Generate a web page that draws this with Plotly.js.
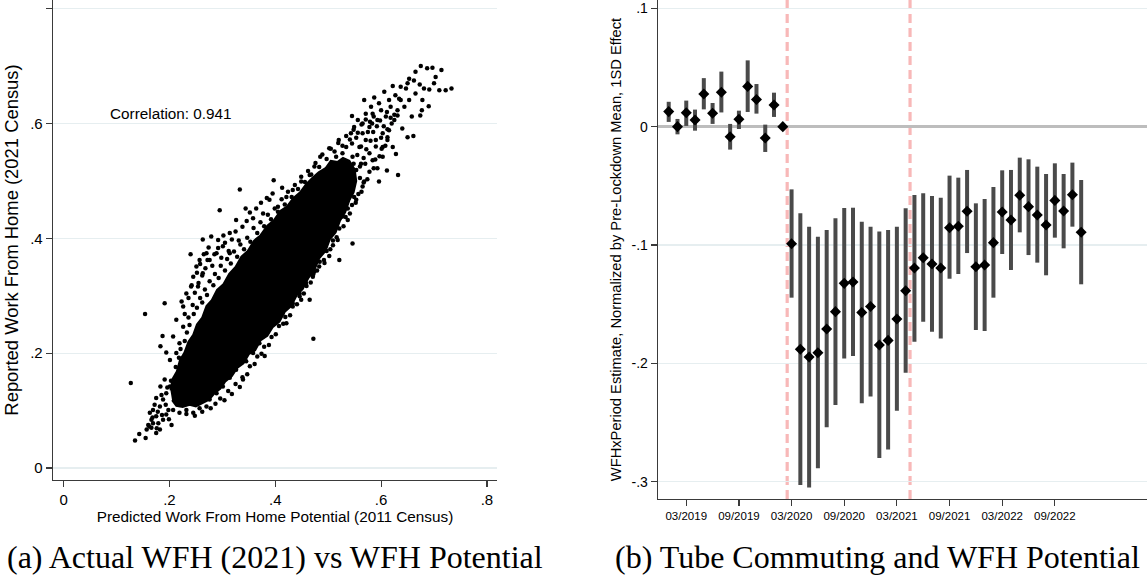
<!DOCTYPE html>
<html>
<head>
<meta charset="utf-8">
<script src="https://cdn.plot.ly/plotly-3.0.1.min.js"></script>
<style>html,body{margin:0;padding:0;background:#fff;}#chart{width:1147px;height:587px;}</style>
</head>
<body>
<div id="chart"></div>
<script>
// ---------- Panel (a): scatter data ----------
// dense core of the cloud (outline of the solid black region)
const coreX = [0.205,0.213,0.225,0.238,0.25,0.262,0.275,0.285,0.296,0.305,0.318,0.328,0.34,0.35,0.362,0.372,0.385,0.395,0.408,0.418,0.43,0.44,0.452,0.462,0.474,0.483,0.495,0.503,0.514,0.522,0.532,0.54,0.548,0.553,0.55,
0.54,0.528,0.518,0.505,0.495,0.482,0.47,0.458,0.447,0.434,0.422,0.41,0.398,0.385,0.372,0.36,0.348,0.336,0.325,0.313,0.302,0.29,0.28,0.27,0.262,0.252,0.245,0.236,0.228,0.22,0.214,0.206,0.202];
const coreY = [0.118,0.108,0.106,0.110,0.107,0.113,0.119,0.13,0.138,0.15,0.16,0.174,0.182,0.198,0.205,0.222,0.23,0.245,0.255,0.272,0.282,0.3,0.312,0.33,0.345,0.365,0.378,0.398,0.41,0.43,0.445,0.466,0.48,0.5,0.52,
0.535,0.54,0.533,0.535,0.522,0.515,0.505,0.494,0.48,0.47,0.455,0.448,0.432,0.422,0.405,0.396,0.378,0.368,0.35,0.338,0.32,0.31,0.292,0.282,0.262,0.25,0.232,0.22,0.2,0.188,0.168,0.155,0.135];
// individual points: outliers and the sparser outer cloud
const wfhPotential = [0.127,0.135,0.143,0.155,0.154,0.191,0.187,0.194,0.183,0.263,0.295,0.333,0.397,0.413,0.472,0.546,0.380,0.465,0.240,0.223,
0.520,0.545,0.568,0.587,0.606,0.622,0.634,0.653,0.665,0.675,0.687,0.697,0.703,0.714,0.722,0.733,0.710,0.691,0.673,0.662,
0.647,0.658,0.661,0.650,0.674,0.690,0.677,0.640,0.632,0.611,0.596,0.622,0.628,0.603,0.593,0.568,0.553,0.537,0.518,0.502,
0.483,0.493,0.474,0.521,0.509,0.565,0.578,0.584,0.600,0.609,0.618,0.631,0.637,0.644,0.571,0.590,0.603,0.615,0.559,0.546,
0.578,0.562,0.540,0.527,0.553,0.584,0.534,0.543,0.556,0.571,0.593,0.603,0.612,0.625,0.631,0.637,0.653,0.665,0.678,0.681,
0.700,0.650,0.627,0.615,0.596,0.581,0.565,0.549,0.527,0.515,0.502,0.485,0.474,0.465,0.449,0.433,0.421,0.405,0.389,0.377,
0.358,0.344,0.326,0.314,0.292,0.279,0.270,0.257,0.251,0.245,0.241,0.232,0.254,0.263,0.276,0.289,0.301,0.314,0.226,0.213,
0.226,0.207,0.219,0.201,0.213,0.191,0.183,0.175,0.169,0.163,0.160,0.166,0.175,0.182,0.188,0.194,0.204,0.198,0.182,0.175,
0.169,0.157,0.166,0.188,0.194,0.201,0.207,0.219,0.232,0.245,0.257,0.270,0.276,0.289,0.301,0.314,0.326,0.345,0.358,0.339,
0.370,0.383,0.402,0.414,0.421,0.433,0.446,0.458,0.449,0.471,0.483,0.499,0.515,0.527,0.537,0.549,0.565,0.509,0.521,0.496,0.483];
const wfhReported = [0.148,0.048,0.059,0.052,0.268,0.287,0.230,0.201,0.212,0.398,0.449,0.485,0.501,0.488,0.225,0.391,0.195,0.293,0.372,0.290,
0.571,0.613,0.641,0.645,0.655,0.665,0.643,0.678,0.690,0.700,0.696,0.697,0.681,0.693,0.658,0.661,0.658,0.659,0.668,0.675,
0.661,0.612,0.578,0.576,0.614,0.630,0.623,0.591,0.510,0.518,0.499,0.559,0.547,0.542,0.522,0.499,0.467,0.432,0.397,0.369,
0.351,0.357,0.342,0.362,0.388,0.583,0.594,0.617,0.623,0.612,0.629,0.623,0.641,0.629,0.571,0.571,0.583,0.588,0.559,0.542,
0.548,0.530,0.525,0.513,0.519,0.536,0.559,0.583,0.606,0.617,0.606,0.559,0.571,0.606,0.614,0.664,0.641,0.652,0.641,0.661,
0.670,0.670,0.649,0.641,0.635,0.629,0.600,0.594,0.548,0.542,0.557,0.542,0.525,0.510,0.499,0.484,0.472,0.455,0.467,0.443,
0.435,0.452,0.432,0.409,0.397,0.403,0.374,0.362,0.351,0.333,0.316,0.304,0.316,0.339,0.362,0.374,0.386,0.374,0.281,0.258,
0.246,0.229,0.217,0.188,0.200,0.154,0.142,0.122,0.101,0.096,0.075,0.070,0.061,0.067,0.084,0.093,0.075,0.101,0.107,0.090,
0.078,0.067,0.084,0.119,0.130,0.142,0.101,0.096,0.101,0.096,0.104,0.107,0.119,0.130,0.142,0.157,0.171,0.186,0.200,0.154,
0.217,0.235,0.258,0.270,0.252,0.287,0.304,0.322,0.293,0.333,0.374,0.397,0.420,0.438,0.452,0.472,0.490,0.467,0.484,0.438,0.414];
// points along the fuzzy edges of the cloud
const edgePotential = [0.212,0.218,0.221,0.229,0.233,0.238,0.236,0.246,0.244,0.252,0.258,0.262,0.267,0.271,0.276,0.283,0.286,0.293,0.297,0.305,
0.309,0.316,0.322,0.328,0.334,0.341,0.347,0.353,0.359,0.366,0.372,0.379,0.386,0.392,0.399,0.405,0.412,0.418,0.424,0.431,
0.437,0.443,0.449,0.456,0.462,0.468,0.476,0.483,0.489,0.497,0.505,0.512,0.519,0.527,0.534,0.541,0.548,0.556,0.563,0.571,0.579,0.586,
0.232,0.248,0.262,0.278,0.287,0.296,0.304,0.311,0.318,0.325,0.333,0.338,0.347,0.352,0.361,0.366,0.374,0.379,0.388,0.393,
0.401,0.407,0.415,0.419,0.428,0.433,0.441,0.446,0.454,0.459,0.467,0.472,0.479,0.484,0.492,0.497,0.504,0.509,0.516,0.521,
0.529,0.533,0.541,0.545,0.552,0.557,0.563,0.567,0.574,0.578,0.586,0.589,0.597,0.601,0.608,0.612,
0.525,0.532,0.540,0.548,0.555,0.562,0.545,0.553,0.560,0.567,0.572,0.580,0.585,0.592,0.575,0.583,0.598,0.605,0.611,0.618,0.560,0.570,0.590,0.600,0.612,0.620,0.625,
0.248,0.255,0.262,0.268,0.258,0.272,0.281,0.285,0.292,0.298,0.305,0.312,0.318,0.325,0.331,0.338,0.236,0.242,0.229,0.252,0.274,0.265,0.302,0.346,0.352,0.364,0.373,0.384,0.395,
0.172,0.178,0.186,0.193,0.199,0.179,0.168,0.162,0.176,0.185,0.196,0.203];
const edgeReported = [0.176,0.192,0.207,0.221,0.236,0.249,0.262,0.268,0.284,0.279,0.296,0.288,0.311,0.301,0.325,0.318,0.338,0.331,0.352,0.344,
0.364,0.356,0.377,0.368,0.389,0.381,0.401,0.394,0.418,0.409,0.428,0.421,0.441,0.433,0.452,0.446,0.468,0.459,0.481,0.472,
0.493,0.486,0.507,0.498,0.517,0.511,0.531,0.524,0.546,0.538,0.556,0.551,0.566,0.561,0.578,0.572,0.589,0.584,0.598,0.607,0.603,0.612,
0.094,0.091,0.098,0.104,0.112,0.121,0.118,0.134,0.129,0.146,0.141,0.158,0.163,0.177,0.181,0.194,0.199,0.211,0.214,0.228,
0.233,0.247,0.251,0.263,0.266,0.281,0.285,0.299,0.304,0.317,0.323,0.338,0.344,0.359,0.362,0.378,0.381,0.396,0.402,0.417,
0.421,0.437,0.443,0.458,0.462,0.477,0.481,0.497,0.503,0.516,0.522,0.537,0.543,0.556,0.561,0.576,
0.530,0.505,0.515,0.530,0.545,0.560,0.565,0.575,0.525,0.540,0.555,0.570,0.585,0.595,0.585,0.600,0.605,0.595,0.620,0.610,0.505,0.530,0.560,0.575,0.590,0.600,0.615,
0.305,0.322,0.335,0.348,0.355,0.362,0.352,0.372,0.383,0.366,0.392,0.378,0.398,0.412,0.396,0.420,0.296,0.318,0.268,0.340,0.384,0.372,0.405,0.430,0.445,0.452,0.462,0.470,0.478,
0.110,0.098,0.092,0.110,0.085,0.078,0.088,0.072,0.069,0.127,0.140,0.152];
const correlationText = "Correlation: 0.941";
const aTicks = [0, 0.2, 0.4, 0.6, 0.8];
const aTickText = ["0", ".2", ".4", ".6", ".8"];

// ---------- Panel (b): event study ----------
const months = ["01/2019","02/2019","03/2019","04/2019","05/2019","06/2019","07/2019","08/2019","09/2019","10/2019","11/2019","12/2019",
"01/2020","02/2020","03/2020","04/2020","05/2020","06/2020","07/2020","08/2020","09/2020","10/2020","11/2020","12/2020",
"01/2021","02/2021","03/2021","04/2021","05/2021","06/2021","07/2021","08/2021","09/2021","10/2021","11/2021","12/2021",
"01/2022","02/2022","03/2022","04/2022","05/2022","06/2022","07/2022","08/2022","09/2022","10/2022","11/2022","12/2022"];
const estimate = [0.0127,0.0,0.0118,0.0056,0.0276,0.0113,0.029,-0.0085,0.0062,0.034,0.023,-0.0096,0.0183,0.0,
-0.0989,-0.188,-0.1946,-0.191,-0.171,-0.1563,-0.1324,-0.1313,-0.157,-0.152,-0.1845,-0.1806,-0.1625,-0.1386,
-0.1194,-0.1107,-0.116,-0.1194,-0.0854,-0.0842,-0.0715,-0.1183,-0.1169,-0.098,-0.0721,-0.0789,-0.058,-0.0676,
-0.0746,-0.0831,-0.0623,-0.0713,-0.0575,-0.0893];
const ciUpper = [0.021,0.0065,0.022,0.0144,0.041,0.020,0.0465,0.0023,0.0135,0.056,0.036,0.0017,0.0287,0.0,
-0.053,-0.0732,-0.0845,-0.093,-0.0873,-0.0775,-0.0687,-0.0685,-0.0803,-0.0845,-0.0885,-0.0873,-0.0845,-0.069,
-0.0577,-0.0563,-0.0586,-0.06,-0.0414,-0.0431,-0.0366,-0.0648,-0.0611,-0.051,-0.0369,-0.0366,-0.0262,-0.0276,
-0.0338,-0.04,-0.031,-0.04,-0.0304,-0.0451];
const ciLower = [0.004,-0.0065,0.0006,-0.0034,0.0146,0.0023,0.012,-0.0194,-0.002,0.0124,0.011,-0.0214,0.0082,0.0,
-0.1445,-0.3028,-0.3048,-0.2887,-0.254,-0.2352,-0.1958,-0.1938,-0.2338,-0.228,-0.28,-0.2727,-0.24,-0.2079,
-0.1817,-0.1648,-0.1732,-0.1789,-0.1285,-0.1245,-0.1068,-0.1718,-0.1727,-0.1445,-0.1076,-0.1211,-0.0893,-0.1085,
-0.1149,-0.1256,-0.0938,-0.1028,-0.0845,-0.1332];
const bTickText = ["03/2019","09/2019","03/2020","09/2020","03/2021","09/2021","03/2022","09/2022"];
const bYTicks = [0.1, 0, -0.1, -0.2, -0.3];
const bYTickText = [".1", "0", "-.1", "-.2", "-.3"];
const eventLines = [13.5, 27.5];

const captions = ["(a) Actual WFH (2021) vs WFH Potential", "(b) Tube Commuting and WFH Potential"];

// ---------- build ----------
const W = 1147, H = 587;
const monthIdx = months.map((m, i) => i);
const bTickVals = bTickText.map(t => months.indexOf(t));

const sans = "Liberation Sans, Arial, sans-serif";
const serif = "Liberation Serif, Times New Roman, serif";
const axisCol = "#3a3a3a";
const gridCol = "#e6eef0";

const traces = [
  {x: coreX, y: coreY, type: "scatter", mode: "lines", fill: "toself", fillcolor: "#000",
   line: {color: "#000", width: 2}, xaxis: "x", yaxis: "y", hoverinfo: "skip", showlegend: false},
  {x: wfhPotential.concat(edgePotential), y: wfhReported.concat(edgeReported), type: "scatter", mode: "markers",
   marker: {color: "#000", size: 4.5}, xaxis: "x", yaxis: "y", showlegend: false},
  {x: monthIdx, y: estimate, type: "scatter", mode: "markers",
   error_y: {type: "data", symmetric: false,
     array: ciUpper.map((u, i) => u - estimate[i]),
     arrayminus: ciLower.map((l, i) => estimate[i] - l),
     color: "#4a4a4a", thickness: 4, width: 0},
   marker: {symbol: "diamond", color: "#000", size: 8.5},
   xaxis: "x2", yaxis: "y2", showlegend: false}
];

const shapes = eventLines.map(v => ({
  type: "line", xref: "x2", yref: "y2 domain", x0: v, x1: v, y0: 0, y1: 1,
  line: {color: "#f8b8b8", width: 3.2, dash: "9px,5px"}, layer: "below"
}));

const layout = {
  width: W, height: H,
  margin: {l: 0, r: 0, t: 0, b: 0},
  paper_bgcolor: "#fff", plot_bgcolor: "#fff",
  font: {family: sans, color: "#000", size: 14},
  showlegend: false,
  xaxis: {
    domain: [53 / W, 497 / W], range: [-0.02, 0.819], anchor: "y",
    tickvals: aTicks, ticktext: aTickText, ticks: "outside", ticklen: 6, tickcolor: axisCol, tickwidth: 1.2,
    showline: true, linecolor: axisCol, linewidth: 1.3, showgrid: false, zeroline: false,
    tickfont: {size: 15},
    title: {text: "Predicted Work From Home Potential (2011 Census)", font: {size: 15.3}, standoff: 2}
  },
  yaxis: {
    domain: [1 - 480 / H, 1], range: [-0.021, 0.815], anchor: "x",
    tickvals: aTicks, ticktext: aTickText, ticks: "outside", ticklen: 6, tickcolor: axisCol, tickwidth: 1.2,
    showline: true, linecolor: axisCol, linewidth: 1.3, showgrid: true, gridcolor: gridCol, gridwidth: 1.2,
    zeroline: false, tickfont: {size: 15},
    title: {text: "Reported Work From Home (2021 Census)", font: {size: 18.4}, standoff: 6}
  },
  xaxis2: {
    domain: [658 / W, 1], range: [-1.22, 54.5], anchor: "y2",
    tickvals: bTickVals, ticktext: bTickText, ticks: "outside", ticklen: 6, tickcolor: axisCol, tickwidth: 1.2,
    showline: true, linecolor: axisCol, linewidth: 1.3, showgrid: false, zeroline: false,
    tickfont: {size: 11.5}, tickangle: 0
  },
  yaxis2: {
    domain: [1 - 499 / H, 1], range: [-0.3146, 0.107], anchor: "x2",
    tickvals: bYTicks, ticktext: bYTickText, ticks: "outside", ticklen: 6, tickcolor: axisCol, tickwidth: 1.2,
    showline: true, linecolor: axisCol, linewidth: 1.3, showgrid: true, gridcolor: gridCol, gridwidth: 1.2,
    zeroline: true, zerolinecolor: "#bdbdbd", zerolinewidth: 2.6,
    tickfont: {size: 14},
    title: {text: "WFHxPeriod Estimate, Normalized by Pre-Lockdown Mean, 1SD Effect", font: {size: 14.7}, standoff: 6}
  },
  shapes: shapes,
  annotations: [
    {xref: "x", yref: "y", x: 0.084, y: 0.617, xanchor: "left", yanchor: "middle", showarrow: false,
     text: correlationText, font: {size: 15.3}},
    {xref: "paper", yref: "paper", x: 275 / W, y: 1 - 557 / H, xanchor: "center", yanchor: "middle", showarrow: false,
     text: captions[0], font: {family: serif, size: 32}},
    {xref: "paper", yref: "paper", x: 877 / W, y: 1 - 557 / H, xanchor: "center", yanchor: "middle", showarrow: false,
     text: captions[1], font: {family: serif, size: 32}}
  ]
};

Plotly.newPlot("chart", traces, layout, {staticPlot: true, displayModeBar: false});
</script>
</body>
</html>
